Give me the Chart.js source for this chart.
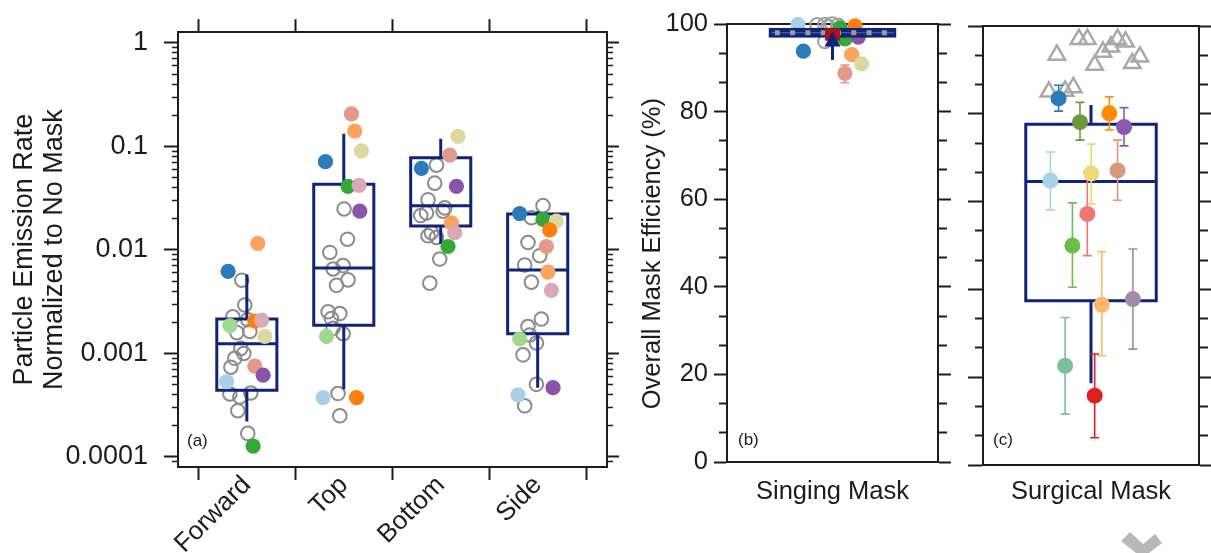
<!DOCTYPE html>
<html><head><meta charset="utf-8">
<script src="https://cdn.jsdelivr.net/npm/chart.js@4.4.0/dist/chart.umd.min.js"></script>
<style>
html,body{margin:0;padding:0;background:#fff;width:1211px;height:553px;overflow:hidden;position:relative}
.p{position:absolute;top:0;height:553px}
#deco{position:absolute;left:0;top:0}
</style></head><body>
<div class="p" style="left:0;width:640px"><canvas id="ca"></canvas></div>
<div class="p" style="left:625px;width:335px"><canvas id="cb"></canvas></div>
<div class="p" style="left:960px;width:251px"><canvas id="cc"></canvas></div>
<svg id="deco" width="1211" height="553"><polygon points="1121,541 1130,532 1143,544 1155,534 1162,543 1149,553 1136,553" fill="#b8b8b8"/></svg>
<script>
// ================= DATA =================
// ---- Panel (a): particle emission rate normalized to no mask ----
const categories = ['Forward', 'Top', 'Bottom', 'Side'];
const yTickValuesA = [0.0001, 0.001, 0.01, 0.1, 1];
const yTickLabelsA = ['0.0001', '0.001', '0.01', '0.1', '1'];
const boxQ1A = [0.00044, 0.00187, 0.0170, 0.00155];
const boxMedianA = [0.00124, 0.0067, 0.0268, 0.0064];
const boxQ3A = [0.00215, 0.0432, 0.0778, 0.0223];
const whiskerLowA = [0.00022, 0.00045, 0.0114, 0.000467];
const whiskerHighA = [0.0058, 0.133, 0.119, 0.0236];
// open grey points [x (category position incl. jitter), value]
const forwardOpen = [[0.948,0.0051],[0.979,0.00294],[0.856,0.00226],[1.010,0.00212],[0.897,0.00159],[1.031,0.00163],[0.938,0.00112],[0.876,0.000898],[0.969,0.001],[0.835,0.000736],[0.825,0.000406],[0.928,0.00038],[1.041,0.000415],[0.907,0.00028],[1.010,0.000169]];
const topOpen = [[2.003,0.0249],[2.038,0.0127],[1.856,0.00946],[1.993,0.00706],[1.890,0.00655],[2.044,0.00514],[1.925,0.00455],[1.838,0.00253],[1.959,0.00243],[1.873,0.00218],[1.890,0.00175],[1.993,0.00155],[1.941,0.00041],[1.959,0.00025]];
const bottomOpen = [[2.956,0.066],[2.938,0.0442],[2.869,0.0306],[3.041,0.0255],[2.853,0.0228],[2.794,0.0215],[3.024,0.0237],[2.904,0.0147],[2.869,0.0137],[2.956,0.0132],[2.990,0.00817],[2.887,0.00478]];
const sideOpen = [[4.055,0.0268],[3.935,0.0205],[3.900,0.0118],[4.021,0.0088],[3.866,0.00716],[3.935,0.00489],[4.038,0.00215],[3.900,0.00182],[3.918,0.00151],[3.987,0.00126],[3.849,0.00097],[3.987,0.000503],[3.866,0.000312]];
// filled participant points [x, value, participant index]
const forwardFilled = [[1.113,0.0116,2],[0.807,0.0062,0],[0.825,0.00186,4],[1.082,0.00206,1],[1.152,0.0021,6],[1.186,0.00146,7],[1.082,0.000753,5],[1.168,0.000617,8],[0.791,0.000533,9],[1.065,0.000127,3]];
const topFilled = [[2.079,0.206,5],[2.113,0.141,2],[2.182,0.0908,7],[1.811,0.0713,0],[2.044,0.0411,3],[2.158,0.042,6],[2.165,0.0237,8],[1.822,0.00146,4],[1.787,0.000375,9],[2.131,0.000375,1]];
const bottomFilled = [[3.178,0.125,7],[3.093,0.0824,5],[2.801,0.0615,0],[3.162,0.0411,8],[3.110,0.0183,2],[3.144,0.0147,6],[3.075,0.0108,3]];
const sideFilled = [[3.814,0.0225,0],[4.055,0.0197,3],[4.193,0.019,7],[4.124,0.0156,1],[4.090,0.0108,5],[4.106,0.0061,2],[4.141,0.00407,6],[3.814,0.00138,4],[4.158,0.000467,8],[3.797,0.000398,9]];

// ---- Panel (b): singing mask efficiency (%) ----
const yTickValuesBC = [0, 20, 40, 60, 80, 100];
const yTickLabelsB = ['0', '20', '40', '60', '80', '100'];
const singingLabel = ['Singing Mask'];
const boxQ1B = [96.9];
const boxMedianB = [98.0];
const boxQ3B = [99.1];
const markerRangeB = [96.2, 99.0];
const arrowRangeB = [91.8, 98.3];
const singingOpen = [[0.427,99.8],[0.464,99.9],[0.498,100.0],[0.526,99.7],[0.479,99.4],[0.464,96.0]];
const singingFilled = [[0.336,99.9,9],[0.362,93.8,0],[0.607,99.6,1],[0.536,99.1,3],[0.559,96.6,3],[0.622,97.0,8],[0.591,93.0,2],[0.638,90.9,7],[0.559,88.7,5]];
const singingErrLow = [null,null,null,null,null,null,null,null,86.6];
const singingErrHigh = [null,null,null,null,null,null,null,null,90.6];

// ---- Panel (c): surgical mask efficiency (%) ----
const surgicalLabel = ['Surgical Mask'];
const boxQ1C = [37.4];
const boxMedianC = [64.6];
const boxQ3C = [77.6];
const whiskerLowC = [18.6];
const whiskerHighC = [82.0];
const surgicalOpen = [[0.342,93.4],[0.444,97.0],[0.483,97.0],[0.517,91.1],[0.555,94.1],[0.592,95.3],[0.623,97.0],[0.660,96.4],[0.691,91.5],[0.726,93.0],[0.305,85.0],[0.380,85.2],[0.418,86.0]];
const surgicalX = [0.350,0.449,0.585,0.653,0.312,0.501,0.623,0.483,0.414,0.550,0.694,0.380,0.517];
const surgicalY = [83.5,78.1,80.1,77.0,64.8,66.4,67.1,57.2,50.0,36.5,37.8,22.6,15.8];
const surgicalErrLow = [80.6,74.0,76.3,72.7,58.1,59.5,60.3,47.7,40.5,24.9,26.4,11.6,6.2];
const surgicalErrHigh = [86.5,82.6,83.9,81.4,71.3,73.1,74.0,66.7,59.7,48.6,49.2,33.6,25.3];

// ================= STYLE =================
const FONT = "'Liberation Sans', Arial, Helvetica, sans-serif";
const NAVY = '#0f2479';
const AXIS = '#1c1c1c';
const GREY = '#8c8c8c';
const FS_A = 27, FS_BC = 25.5;
const colorsA = ['#2b7bba','#ff7f0e','#fba35f','#36a836','#9fd98f','#e5998a','#dba9b5','#ddd8a0','#8a55a8','#a9d0e6'];
const colorsC = ['#2b7bba','#6b9a3c','#ff8c00','#8c5aad','#a8d1ea','#ecd97a','#d9977c','#f07575','#6bbf4a','#fdb86a','#a58aa8','#7fbe9c','#e0201f'];
Chart.defaults.font.family = FONT;
Chart.defaults.font.size = 25;
Chart.defaults.color = AXIS;

const fixW = w => s => { s.width = w; };
const fixH = h => s => { s.height = h; };
const setTicks = vals => s => { s.ticks = vals.map(v => ({value: v})); };
const common = {
  responsive: true, maintainAspectRatio: false, animation: false, events: [],
  layout: {padding: 0},
  plugins: {legend: {display: false}, tooltip: {enabled: false}}
};
function tickAxis(pos, type, min, max, vals, size, tl, weight, tw) {
  return {
    type, position: pos, min, max, weight,
    afterBuildTicks: setTicks(vals),
    afterFit: pos === 'left' || pos === 'right' ? fixW(size) : fixH(size),
    grid: {drawOnChartArea: false, tickLength: tl, tickWidth: tw || 2, tickColor: AXIS},
    border: {display: weight > 0, width: 2, color: AXIS},
    ticks: {display: false, autoSkip: false}
  };
}
function drawPanelLabel(chart, text, dx, dy) {
  const {ctx, chartArea} = chart;
  ctx.save();
  ctx.font = '17px ' + FONT; ctx.fillStyle = AXIS;
  ctx.textBaseline = 'middle'; ctx.textAlign = 'left';
  ctx.fillText(text, chartArea.left + dx, chartArea.bottom - dy);
  ctx.restore();
}
function errorBars(ctx, xs, ys, xv, lo, hi, color) {
  if (lo == null) return;
  const x = xs.getPixelForValue(xv), y1 = ys.getPixelForValue(lo), y2 = ys.getPixelForValue(hi);
  ctx.strokeStyle = color; ctx.lineWidth = 1.6;
  ctx.beginPath();
  ctx.moveTo(x, y1); ctx.lineTo(x, y2);
  ctx.moveTo(x - 4.5, y1); ctx.lineTo(x + 4.5, y1);
  ctx.moveTo(x - 4.5, y2); ctx.lineTo(x + 4.5, y2);
  ctx.stroke();
}

// ================= PANEL (a) =================
const catPos = categories.map((c, i) => i + 1);
const boundaries = [0.5].concat(catPos.map(p => p + 0.5));
const xTicksA = boundaries.concat(catPos).sort((a, b) => a - b);
const minorA = [];
for (let e = -5; e <= -1; e++) for (let m = 2; m <= 9; m++) minorA.push(m * Math.pow(10, e));
const X_MIN_A = 0.29, X_MAX_A = 4.715, Y_MIN_A = 8e-5, Y_MAX_A = 1.27, BOX_HALF_A = 0.31;
const minorAin = minorA.filter(v => v > Y_MIN_A && v < Y_MAX_A);

const filledA = forwardFilled.concat(topFilled, bottomFilled, sideFilled);
const openA = forwardOpen.concat(topOpen, bottomOpen, sideOpen);

const pluginA = {
  id: 'boxA',
  afterDatasetDraw(chart, args) {
    if (args.index !== 1) return;
    const {ctx} = chart, xs = chart.scales.x, ys = chart.scales.y;
    ctx.save();
    ctx.strokeStyle = NAVY; ctx.lineWidth = 3;
    catPos.forEach((p, i) => {
      const xl = xs.getPixelForValue(p - BOX_HALF_A), xr = xs.getPixelForValue(p + BOX_HALF_A), xc = xs.getPixelForValue(p);
      const y1 = ys.getPixelForValue(boxQ1A[i]), y3 = ys.getPixelForValue(boxQ3A[i]), ym = ys.getPixelForValue(boxMedianA[i]);
      const wl = ys.getPixelForValue(whiskerLowA[i]), wh = ys.getPixelForValue(whiskerHighA[i]);
      ctx.beginPath();
      ctx.rect(xl, y3, xr - xl, y1 - y3);
      ctx.moveTo(xl, ym); ctx.lineTo(xr, ym);
      ctx.moveTo(xc, y3); ctx.lineTo(xc, wh);
      ctx.moveTo(xc, y1); ctx.lineTo(xc, wl);
      ctx.stroke();
    });
    ctx.restore();
  },
  afterDraw(chart) { drawPanelLabel(chart, '(a)', 9, 26); }
};

new Chart(document.getElementById('ca'), {
  type: 'scatter',
  data: {datasets: [
    {data: filledA.map(d => ({x: d[0], y: d[1]})), pointRadius: 7.6, pointBorderWidth: 0,
     pointBackgroundColor: filledA.map(d => colorsA[d[2]])},
    {data: openA.map(d => ({x: d[0], y: d[1]})), pointRadius: 6.8, pointBorderWidth: 2,
     pointBorderColor: GREY, pointBackgroundColor: 'rgba(255,255,255,0)'}
  ]},
  options: Object.assign({}, common, {
    scales: {
      x: {
        type: 'linear', position: 'bottom', min: X_MIN_A, max: X_MAX_A, weight: 1,
        afterBuildTicks: setTicks(xTicksA), afterFit: fixH(86),
        grid: {drawOnChartArea: false, tickLength: 13, tickWidth: 2,
               tickColor: c => (c.tick && Number.isInteger(c.tick.value)) ? 'rgba(0,0,0,0)' : AXIS},
        border: {display: true, width: 2, color: AXIS},
        ticks: {autoSkip: false, minRotation: 45, maxRotation: 45, padding: -10, color: AXIS,
                font: {size: 26, family: FONT},
                callback: v => Number.isInteger(v) ? categories[v - 1] : ''}
      },
      xTop: tickAxis('top', 'linear', X_MIN_A, X_MAX_A, boundaries, 28, 13, 1),
      y: {
        type: 'logarithmic', position: 'left', min: Y_MIN_A, max: Y_MAX_A, weight: 1,
        afterBuildTicks: setTicks(yTickValuesA), afterFit: fixW(178),
        grid: {drawOnChartArea: false, tickLength: 14, tickWidth: 2, tickColor: AXIS},
        border: {display: true, width: 2, color: AXIS},
        ticks: {autoSkip: false, padding: 16, color: AXIS, font: {size: FS_A, family: FONT},
                callback: v => yTickLabelsA[yTickValuesA.indexOf(v)]},
        title: {display: true, text: ['Particle Emission Rate', 'Normalized to No Mask'],
                color: AXIS, font: {size: FS_A, family: FONT, lineHeight: 1.1}, padding: {top: 10, bottom: 0}}
      },
      yMinor: tickAxis('left', 'logarithmic', Y_MIN_A, Y_MAX_A, minorAin, 0, 6, 0, 1.5),
      yR: tickAxis('right', 'logarithmic', Y_MIN_A, Y_MAX_A, yTickValuesA, 33, 12, 1),
      yRMinor: tickAxis('right', 'logarithmic', Y_MIN_A, Y_MAX_A, minorAin, 0, 6, 0, 1.5)
    }
  }),
  plugins: [pluginA]
});

// ================= PANEL (b) =================
const minorBC = [];
for (let v = 0; v <= 100.01; v += 20 / 3) { const r = Math.round(v * 1000) / 1000; if (Math.abs(r % 20) > 0.01 && Math.abs(r % 20 - 20) > 0.01) minorBC.push(r); }
const BOX_HALF_BC = 0.302;

const pluginB = {
  id: 'boxB',
  beforeDatasetsDraw(chart) {
    const {ctx} = chart, xs = chart.scales.x, ys = chart.scales.y;
    ctx.save();
    singingFilled.forEach((d, i) => errorBars(ctx, xs, ys, d[0], singingErrLow[i], singingErrHigh[i], colorsA[d[2]]));
    ctx.restore();
  },
  afterDatasetsDraw(chart) {
    const {ctx} = chart, xs = chart.scales.x, ys = chart.scales.y;
    const xl = xs.getPixelForValue(0.5 - BOX_HALF_BC), xr = xs.getPixelForValue(0.5 + BOX_HALF_BC), xc = xs.getPixelForValue(0.5);
    const y1 = ys.getPixelForValue(boxQ1B[0]), y3 = ys.getPixelForValue(boxQ3B[0]), ym = ys.getPixelForValue(boxMedianB[0]);
    ctx.save();
    ctx.fillStyle = NAVY;
    ctx.fillRect(xl, y3, xr - xl, y1 - y3);
    ctx.strokeStyle = '#5b6aa6'; ctx.lineWidth = 1;
    ctx.beginPath(); ctx.moveTo(xl + 2, ym); ctx.lineTo(xr - 2, ym); ctx.stroke();
    ctx.strokeStyle = '#9a9a9a'; ctx.lineWidth = 5; ctx.setLineDash([5, 10.3]);
    ctx.beginPath(); ctx.moveTo(xl + 6, ym); ctx.lineTo(xr - 4, ym); ctx.stroke();
    ctx.setLineDash([]);
    // red marker
    const mx = 7.5;
    const my1 = ys.getPixelForValue(markerRangeB[0]), my2 = ys.getPixelForValue(markerRangeB[1]);
    ctx.fillStyle = '#a8161c';
    ctx.fillRect(xc - mx, my2, 2 * mx, my1 - my2);
    // arrow
    const ay1 = ys.getPixelForValue(arrowRangeB[0]), ay2 = ys.getPixelForValue(arrowRangeB[1]);
    ctx.strokeStyle = NAVY; ctx.fillStyle = NAVY; ctx.lineWidth = 3;
    ctx.beginPath(); ctx.moveTo(xc, ay1); ctx.lineTo(xc, ay2 + 10); ctx.stroke();
    ctx.beginPath(); ctx.moveTo(xc, ay2); ctx.lineTo(xc - 8, ay2 + 15); ctx.lineTo(xc + 8, ay2 + 15); ctx.closePath(); ctx.fill();
    ctx.restore();
  },
  afterDraw(chart) { drawPanelLabel(chart, '(b)', 11, 22); }
};

new Chart(document.getElementById('cb'), {
  type: 'scatter',
  data: {datasets: [
    {data: singingFilled.map(d => ({x: d[0], y: d[1]})), pointRadius: 7.6, pointBorderWidth: 0, clip: false,
     pointBackgroundColor: singingFilled.map(d => colorsA[d[2]])},
    {data: singingOpen.map(d => ({x: d[0], y: d[1]})), pointRadius: 6.8, pointBorderWidth: 2, clip: false,
     pointBorderColor: '#a0a0a0', pointBackgroundColor: 'rgba(255,255,255,0)'}
  ]},
  options: Object.assign({}, common, {
    scales: {
      x: {
        type: 'linear', position: 'bottom', min: 0, max: 1, weight: 1,
        afterBuildTicks: setTicks([0.5]), afterFit: fixH(91),
        grid: {display: false},
        border: {display: true, width: 2, color: AXIS},
        ticks: {autoSkip: false, maxRotation: 0, padding: 7, color: AXIS, font: {size: FS_BC, family: FONT},
                callback: () => singingLabel[0]}
      },
      xTop: tickAxis('top', 'linear', 0, 1, [], 24, 0, 1),
      y: {
        type: 'linear', position: 'left', min: 0, max: 100, weight: 1,
        afterBuildTicks: setTicks(yTickValuesBC), afterFit: fixW(102),
        grid: {drawOnChartArea: false, tickLength: 13, tickWidth: 2, tickColor: AXIS},
        border: {display: true, width: 2, color: AXIS},
        ticks: {autoSkip: false, padding: 6, color: AXIS, font: {size: FS_BC, family: FONT},
                callback: v => yTickLabelsB[yTickValuesBC.indexOf(v)]},
        title: {display: true, text: 'Overall Mask Efficiency (%)\u00a0\u00a0\u00a0', color: AXIS,
                font: {size: FS_BC, family: FONT, lineHeight: 1.2}, padding: {top: 13, bottom: 0}}
      },
      yMinor: tickAxis('left', 'linear', 0, 100, minorBC, 0, 8, 0),
      yR: tickAxis('right', 'linear', 0, 100, yTickValuesBC, 22, 13, 1),
      yRMinor: tickAxis('right', 'linear', 0, 100, minorBC, 0, 9, 0)
    }
  }),
  plugins: [pluginB]
});

// ================= PANEL (c) =================
const pluginC = {
  id: 'boxC',
  afterDatasetDraw(chart, args) {
    if (args.index !== 1) return;
    const {ctx} = chart, xs = chart.scales.x, ys = chart.scales.y;
    const xl = xs.getPixelForValue(0.5 - BOX_HALF_BC), xr = xs.getPixelForValue(0.5 + BOX_HALF_BC), xc = xs.getPixelForValue(0.5);
    const y1 = ys.getPixelForValue(boxQ1C[0]), y3 = ys.getPixelForValue(boxQ3C[0]), ym = ys.getPixelForValue(boxMedianC[0]);
    const wl = ys.getPixelForValue(whiskerLowC[0]), wh = ys.getPixelForValue(whiskerHighC[0]);
    ctx.save();
    ctx.strokeStyle = NAVY; ctx.lineWidth = 3;
    ctx.beginPath();
    ctx.rect(xl, y3, xr - xl, y1 - y3);
    ctx.moveTo(xl, ym); ctx.lineTo(xr, ym);
    ctx.moveTo(xc, y3); ctx.lineTo(xc, wh);
    ctx.moveTo(xc, y1); ctx.lineTo(xc, wl);
    ctx.stroke();
    surgicalX.forEach((x, i) => errorBars(ctx, xs, ys, x, surgicalErrLow[i], surgicalErrHigh[i], colorsC[i]));
    ctx.restore();
  },
  afterDraw(chart) { drawPanelLabel(chart, '(c)', 10, 25); }
};

new Chart(document.getElementById('cc'), {
  type: 'scatter',
  data: {datasets: [
    {data: surgicalX.map((x, i) => ({x, y: surgicalY[i]})), pointRadius: 8, pointBorderWidth: 0,
     pointBackgroundColor: colorsC},
    {data: surgicalOpen.map(d => ({x: d[0], y: d[1]})), pointStyle: 'triangle', pointRadius: 9.5,
     pointBorderWidth: 2.5, pointBorderColor: '#a9a9a9', pointBackgroundColor: 'rgba(255,255,255,0)'}
  ]},
  options: Object.assign({}, common, {
    scales: {
      x: {
        type: 'linear', position: 'bottom', min: 0, max: 1, weight: 1,
        afterBuildTicks: setTicks([0.5]), afterFit: fixH(88),
        grid: {display: false},
        border: {display: true, width: 2, color: AXIS},
        ticks: {autoSkip: false, maxRotation: 0, padding: 4, color: AXIS, font: {size: FS_BC, family: FONT},
                callback: () => surgicalLabel[0]}
      },
      xTop: tickAxis('top', 'linear', 0, 1, [], 26, 0, 1),
      y: tickAxis('left', 'linear', 0, 100, yTickValuesBC, 23, 15, 1),
      yMinor: tickAxis('left', 'linear', 0, 100, minorBC, 0, 8, 0),
      yR: tickAxis('right', 'linear', 0, 100, yTickValuesBC, 8, 13, 1),
      yRMinor: tickAxis('right', 'linear', 0, 100, minorBC, 0, 9, 0)
    }
  }),
  plugins: [pluginC]
});
</script>
</body></html>
